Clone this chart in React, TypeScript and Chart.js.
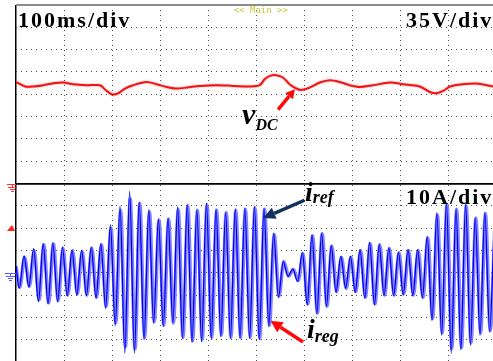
import React, { useEffect, useRef } from 'react';
import { Chart, registerables } from 'chart.js';

Chart.register(...registerables);

// ---- Data ----
const X_MAX_MS = 1000; // 10 div x 100 ms/div
const X_STEP_MS = 100;
const V_RANGE = 140; // 4 div x 35 V/div
const V_STEP = 35;
const A_RANGE = 40; // 4 div x 10 A/div
const A_STEP = 10;

// vDC trace (relative to screen centre of upper panel), ms / V
const VDC_TIME_MS = [0, 2, 19, 36, 57, 78, 99, 119, 147, 175, 185, 199, 213, 227, 244, 272, 293, 314, 335, 356, 383, 418, 453, 488, 508, 518, 529, 542, 556, 570, 584, 594, 612, 633, 654, 674, 695, 716, 744, 779, 806, 841, 862, 876, 890, 904, 931, 959, 994, 1000];
const VDC_V = [18, 18.4, 12.1, 12.1, 14.2, 17.3, 18.4, 15.7, 14.2, 14.2, 7.9, 0, 1.6, 9.0, 14.2, 19.3, 15.7, 11.5, 9.0, 10.5, 13.1, 14.2, 13.1, 12.1, 14.2, 23.6, 28.8, 29.9, 26.3, 15.7, 9.0, 6.8, 10.5, 18.4, 22.0, 19.3, 14.2, 11.5, 14.2, 18.4, 15.7, 12.1, 3.6, 1.6, 5.2, 12.1, 15.7, 16.8, 12.1, 12];

// Currents: successive extremes (trough / peak) every half period of 50 Hz
const HALF_PERIOD_MS = 10;
const IREF_T0_MS = 6.7;
const IREG_T0_MS = 8.0;
const I_START_A = 3;
const IREF_EXTREMES_A = [
  -6.9, 7.6, -6.4, 10.8, -12.9, 13.0, -13.9, 13.3, -12.9, 11.5,
  -10.3, 10.0, -9.9, 10.0, -10.3, 11.5, -11.4, 13.0, -15.9, 21.6,
  -23.8, 29.8, -36.0, 36.5, -36.0, 31.6, -30.0, 28.3, -22.6, 24.1,
  -24.1, 24.6, -22.6, 29.5, -29.4, 30.6, -31.3, 28.3, -30.9, 31.3,
  -29.4, 28.6, -28.6, 27.1, -29.4, 28.6, -29.4, 29.0, -29.4, 29.8,
  -30.0, 29.0, -24.0, 17.8, -11.0, 5.0, -1.7, 1.6, -3.9, 9.1,
  -14.4, 17.1, -18.4, 17.8, -15.1, 12.1, -8.8, 7.3, -6.9, 7.3,
  -8.8, 10.3, -11.4, 13.6, -14.4, 12.6, -10.3, 11.1, -10.3, 9.1,
  -9.9, 10.3, -10.3, 10.3, -11.4, 16.3, -21.4, 26.8, -27.9, 31.3,
  -36.0, 28.6, -34.6, 30.6, -32.4, 24.6, -27.9, 27.1, -26.4, 23.8,
];
const IREG_EXTREMES_A = [
  -6.5, 7.0, -6.0, 10.0, -12.0, 12.5, -13.5, 13.0, -12.5, 11.0,
  -10.0, 10.0, -9.5, 9.5, -10.0, 11.0, -11.0, 12.5, -15.0, 20.0,
  -22.5, 28.0, -33.0, 33.0, -34.0, 31.0, -29.0, 27.5, -22.0, 23.5,
  -23.5, 24.0, -22.5, 28.5, -29.0, 30.0, -30.5, 28.0, -30.0, 30.5,
  -29.0, 28.0, -28.0, 27.0, -29.0, 28.0, -29.0, 28.5, -29.0, 29.0,
  -29.5, 28.5, -23.5, 17.0, -10.5, 5.0, -1.5, 1.5, -3.5, 8.5,
  -14.0, 16.5, -18.0, 17.5, -15.0, 12.0, -8.5, 7.0, -7.0, 7.0,
  -8.5, 10.0, -11.0, 13.0, -14.0, 12.5, -10.0, 11.0, -10.0, 9.0,
  -9.5, 10.0, -10.0, 10.0, -11.0, 15.5, -20.5, 26.0, -27.0, 30.5,
  -34.0, 28.5, -33.5, 30.0, -31.5, 24.5, -27.0, 26.5, -26.0, 23.5,
];

// Annotation anchors in data units (ms, V / A)
const VDC_LABEL = { t: 471, v: -47 };
const VDC_ARROW = { t1: 546, v1: -24, t2: 581, v2: 8 };
const IREF_LABEL = { t: 602, a: 32 };
const IREF_ARROW = { t1: 601, a1: 32.5, t2: 515, a2: 24.5 };
const IREG_LABEL = { t: 606, a: -29.2 };
const IREG_ARROW = { t1: 598, a1: -31, t2: 530, a2: -21.5 };

const TEXT_TIME = '100ms/div';
const TEXT_VOLT = '35V/div';
const TEXT_AMP = '10A/div';
const TEXT_MAIN = '<< Main >>';

const SERIF = '"Liberation Serif", "Times New Roman", serif';

function drawArrow(ctx: CanvasRenderingContext2D, x1: number, y1: number, x2: number, y2: number, color: string, lw: number, hl: number, hw: number) {
  const ang = Math.atan2(y2 - y1, x2 - x1);
  const bx = x2 - hl * Math.cos(ang);
  const by = y2 - hl * Math.sin(ang);
  ctx.save();
  ctx.strokeStyle = color;
  ctx.fillStyle = color;
  ctx.lineWidth = lw;
  ctx.beginPath();
  ctx.moveTo(x1, y1);
  ctx.lineTo(bx, by);
  ctx.stroke();
  ctx.beginPath();
  ctx.moveTo(x2, y2);
  ctx.lineTo(bx + (hw / 2) * Math.sin(ang), by - (hw / 2) * Math.cos(ang));
  ctx.lineTo(bx - (hw / 2) * Math.sin(ang), by + (hw / 2) * Math.cos(ang));
  ctx.closePath();
  ctx.fill();
  ctx.restore();
}

function drawGround(ctx: CanvasRenderingContext2D, x0: number, x1: number, y: number, color: string) {
  const cx = x0 + 5;
  ctx.save();
  ctx.strokeStyle = color;
  ctx.lineWidth = 1;
  ctx.beginPath();
  ctx.moveTo(x0, y + 0.5);
  ctx.lineTo(x1, y + 0.5);
  ctx.moveTo(cx + 0.5, y);
  ctx.lineTo(cx + 0.5, y + 3);
  ctx.moveTo(cx - 4, y + 3.5);
  ctx.lineTo(cx + 5, y + 3.5);
  ctx.moveTo(cx - 2, y + 5.5);
  ctx.lineTo(cx + 3, y + 5.5);
  ctx.moveTo(cx - 1, y + 7.5);
  ctx.lineTo(cx + 2, y + 7.5);
  ctx.stroke();
  ctx.restore();
}

const overlayPlugin = {
  id: 'scopeOverlay',
  beforeDatasetDraw(chart: any, args: any) {
    if (args.index === 0) {
      chart.ctx.save();
      chart.ctx.shadowColor = 'rgba(255,80,80,0.6)';
      chart.ctx.shadowBlur = 2;
    }
  },
  afterDatasetDraw(chart: any, args: any) {
    if (args.index === 0) chart.ctx.restore();
  },
  afterDatasetsDraw(chart: any) {
    const { ctx, chartArea, scales } = chart;
    const sx = scales.x;
    const sv = scales.yV;
    const si = scales.yI;
    ctx.save();
    // scale texts
    ctx.fillStyle = '#000';
    ctx.textBaseline = 'alphabetic';
    ctx.textAlign = 'left';
    ctx.font = `bold 22px ${SERIF}`;
    (ctx as any).letterSpacing = '2px';
    ctx.fillText(TEXT_TIME, chartArea.left + 2, sv.top + 22);
    ctx.fillText(TEXT_VOLT, 406, sv.top + 22);
    ctx.fillText(TEXT_AMP, 406, si.top + 20);
    (ctx as any).letterSpacing = '0px';

    // << Main >>
    ctx.font = `9px "DejaVu Sans Mono", monospace`;
    ctx.fillStyle = '#c8c83c';
    ctx.textAlign = 'center';
    ctx.fillText(TEXT_MAIN, sx.getPixelForValue(510), sv.top + 8);

    // vDC label
    ctx.textAlign = 'left';
    ctx.fillStyle = '#000';
    const vx = sx.getPixelForValue(VDC_LABEL.t);
    const vy = sv.getPixelForValue(VDC_LABEL.v);
    ctx.font = `bold italic 30px ${SERIF}`;
    ctx.fillText('v', vx, vy);
    const vw = ctx.measureText('v').width;
    ctx.font = `bold italic 16px ${SERIF}`;
    ctx.fillText('DC', vx + vw, vy + 6);
    drawArrow(ctx, sx.getPixelForValue(VDC_ARROW.t1), sv.getPixelForValue(VDC_ARROW.v1), sx.getPixelForValue(VDC_ARROW.t2), sv.getPixelForValue(VDC_ARROW.v2), '#ff0a0a', 3.5, 9, 10);

    // iref label
    const rx = sx.getPixelForValue(IREF_LABEL.t);
    const ry = si.getPixelForValue(IREF_LABEL.a);
    ctx.font = `bold italic 28px ${SERIF}`;
    ctx.fillText('i', rx, ry);
    const iw = ctx.measureText('i').width;
    ctx.font = `bold italic 18px ${SERIF}`;
    ctx.fillText('ref', rx + iw, ry + 2);
    drawArrow(ctx, sx.getPixelForValue(IREF_ARROW.t1), si.getPixelForValue(IREF_ARROW.a1), sx.getPixelForValue(IREF_ARROW.t2), si.getPixelForValue(IREF_ARROW.a2), '#15305e', 3.5, 12, 12);

    // ireg label
    const gx = sx.getPixelForValue(IREG_LABEL.t);
    const gy = si.getPixelForValue(IREG_LABEL.a);
    ctx.font = `bold italic 28px ${SERIF}`;
    ctx.fillText('i', gx, gy);
    ctx.font = `bold italic 18px ${SERIF}`;
    ctx.fillText('reg', gx + iw, gy + 4);
    drawArrow(ctx, sx.getPixelForValue(IREG_ARROW.t1), si.getPixelForValue(IREG_ARROW.a1), sx.getPixelForValue(IREG_ARROW.t2), si.getPixelForValue(IREG_ARROW.a2), '#ff0a0a', 3.5, 12, 12);

    // channel markers left of the screen
    const left = chartArea.left;
    drawGround(ctx, left - 9, left, Math.round(si.getPixelForValue(A_RANGE)), '#ff3030');
    ctx.fillStyle = '#ff2020';
    const ty = Math.round(si.getPixelForValue(20));
    ctx.beginPath();
    ctx.moveTo(left - 9, ty + 3);
    ctx.lineTo(left - 1, ty + 3);
    ctx.lineTo(left - 4, ty - 3);
    ctx.closePath();
    ctx.fill();
    drawGround(ctx, left - 11, left, Math.round(si.getPixelForValue(0)), '#5a5aff');
    ctx.restore();
  },
};

const gridColor = (top: number, bottom: number, isTopPanel: boolean) => (c: any) => {
  const v = c.tick ? c.tick.value : null;
  if (v === top && isTopPanel) return '#8c8c8c';
  if ((v === bottom && isTopPanel) || (v === top && !isTopPanel)) return '#000';
  return '#4a4a4a';
};

export default function App() {
  const ref = useRef<HTMLCanvasElement | null>(null);
  useEffect(() => {
    if (!ref.current) return;
    const vdcData = VDC_TIME_MS.map((t, i) => ({ x: t, y: VDC_V[i] }));
    const irefData = [{ x: 0, y: I_START_A }, ...IREF_EXTREMES_A.map((a, k) => ({ x: IREF_T0_MS + k * HALF_PERIOD_MS, y: a }))];
    const iregData = [{ x: 0, y: I_START_A }, ...IREG_EXTREMES_A.map((a, k) => ({ x: IREG_T0_MS + k * HALF_PERIOD_MS, y: a }))];

    const chart = new Chart(ref.current, {
      type: 'line',
      data: {
        datasets: [
          { label: 'vDC', data: vdcData, yAxisID: 'yV', borderColor: '#f21414', borderWidth: 2, pointRadius: 0, tension: 0.3, order: 0 },
          { label: 'iref', data: irefData, yAxisID: 'yI', borderColor: '#0000f0', borderWidth: 1.3, pointRadius: 0, cubicInterpolationMode: 'monotone', order: 0 },
          { label: 'ireg', data: iregData, yAxisID: 'yI', borderColor: 'rgba(125,125,255,0.95)', borderWidth: 3.5, pointRadius: 0, cubicInterpolationMode: 'monotone', order: 1 },
        ],
      },
      options: {
        responsive: false,
        animation: false,
        events: [],
        layout: { padding: { left: 16, top: 5, right: 1, bottom: 1 } },
        plugins: { legend: { display: false }, tooltip: { enabled: false } },
        scales: {
          x: {
            type: 'linear', min: 0, max: X_MAX_MS, position: 'bottom',
            ticks: { display: false, stepSize: X_STEP_MS },
            grid: {
              drawTicks: false,
              color: (c: any) => (c.tick && c.tick.value === 0 ? '#000' : '#4a4a4a'),
              lineWidth: (c: any) => (c.tick && c.tick.value === 0 ? 1.5 : 1),
            },
            border: { display: false, dash: (c: any) => (c.tick && c.tick.value === 0 ? [] : [1, 4]) },
          },
          yI: {
            type: 'linear', stack: 'scope', stackWeight: 1, position: 'left', min: -A_RANGE, max: A_RANGE,
            ticks: { display: false, stepSize: A_STEP },
            grid: {
              drawTicks: false,
              color: gridColor(A_RANGE, -A_RANGE, false),
              lineWidth: (c: any) => (c.tick && c.tick.value === A_RANGE ? 1.5 : 1),
            },
            border: { display: false, dash: (c: any) => (c.tick && Math.abs(c.tick.value) === A_RANGE ? [] : [1, 4]) },
          },
          yV: {
            type: 'linear', stack: 'scope', stackWeight: 1, position: 'left', min: -V_RANGE, max: V_RANGE,
            ticks: { display: false, stepSize: V_STEP },
            grid: {
              drawTicks: false,
              color: gridColor(V_RANGE, -V_RANGE, true),
              lineWidth: (c: any) => (c.tick && c.tick.value === V_RANGE ? 2 : c.tick && c.tick.value === -V_RANGE ? 1.5 : 1),
            },
            border: { display: false, dash: (c: any) => (c.tick && Math.abs(c.tick.value) === V_RANGE ? [] : [1, 4]) },
          },
        },
      },
      plugins: [overlayPlugin],
    } as any);
    return () => chart.destroy();
  }, []);

  return (
    <div style={{ position: 'fixed', left: 0, top: 0, width: 493, height: 361, overflow: 'hidden', background: '#fff' }}>
      <canvas ref={ref} width={497} height={363} style={{ width: 497, height: 363, display: 'block' }} />
    </div>
  );
}
